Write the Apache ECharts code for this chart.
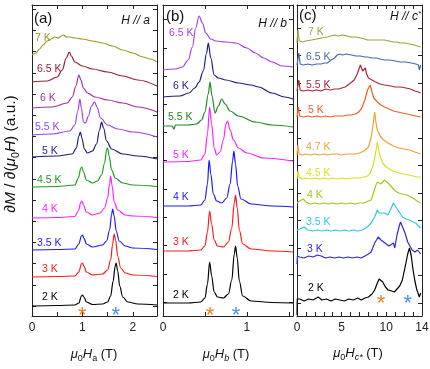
<!DOCTYPE html>
<html><head><meta charset="utf-8">
<script src="https://cdn.jsdelivr.net/npm/echarts@6/dist/echarts.min.js"></script>
<style>html,body{margin:0;padding:0;background:#fff}#c{width:430px;height:369px}</style>
</head><body><div id="c"></div>
<script>
// ---------- DATA (field in T, dM/dH in arbitrary units incl. vertical offset) ----------
const tempsA = ['2 K','3 K','3.5 K','4 K','4.5 K','5 K','5.5 K','6 K','6.5 K','7 K'];
const a_2K = [[0,10],[0.5,10.5],[0.85,11],[0.93,13],[0.98,20],[1.0,21],[1.03,19],[1.08,14],[1.2,11.5],[1.4,12],[1.5,14],[1.56,20],[1.61,35],[1.65,50],[1.67,53],[1.70,45],[1.74,30],[1.8,19],[1.9,14],[2.1,12],[2.48,11]];
const a_3K = [[0,39],[0.5,39.5],[0.85,40],[0.93,44],[0.98,52],[1.0,53],[1.03,50],[1.08,44],[1.2,41],[1.4,42],[1.5,46],[1.56,56],[1.6,72],[1.63,82],[1.66,76],[1.7,60],[1.76,48],[1.85,43],[2.0,41],[2.48,39.5]];
const a_35K = [[0,66],[0.5,66.5],[0.85,67],[0.93,72],[0.98,80],[1.0,81],[1.03,78],[1.08,72],[1.2,69],[1.4,71],[1.48,75],[1.54,86],[1.58,102],[1.60,107],[1.63,100],[1.67,85],[1.73,75],[1.85,70],[2.0,68],[2.48,66.5]];
const a_4K = [[0,98],[0.5,98.5],[0.85,99.5],[0.92,105],[0.97,114],[0.99,115],[1.02,111],[1.08,104],[1.2,101],[1.35,103],[1.44,108],[1.5,118],[1.54,132],[1.56,140],[1.59,130],[1.63,114],[1.7,106],[1.85,101],[2.0,100],[2.48,98.5]];
const a_45K = [[0,129],[0.5,129.5],[0.85,131],[0.92,138],[0.97,148],[0.99,149],[1.02,144],[1.08,136],[1.2,133],[1.3,135],[1.38,141],[1.44,153],[1.48,166],[1.50,168],[1.53,160],[1.58,146],[1.65,138],[1.8,133],[2.0,131],[2.48,129.5]];
const a_5K = [[0,159],[0.5,160],[0.8,162],[0.88,168],[0.93,180],[0.96,184],[0.99,178],[1.04,167],[1.1,163],[1.2,165],[1.28,172],[1.34,186],[1.38,194],[1.42,188],[1.48,175],[1.58,167],[1.8,162],[2.1,160],[2.48,157]];
const a_55K = [[0,181],[0.4,182],[0.75,185],[0.85,191],[0.91,205],[0.95,217],[0.98,208],[1.02,194],[1.06,193],[1.12,200],[1.18,210],[1.24,214],[1.29,209],[1.36,198],[1.5,191],[1.7,187],[2.0,184],[2.48,179]];
const a_6K = [[0,208],[0.4,209],[0.7,213],[0.8,219],[0.87,230],[0.93,241],[0.97,236],[1.02,228],[1.1,223],[1.25,219],[1.5,216],[1.8,213],[2.1,209],[2.48,204]];
const a_65K = [[0,234],[0.3,235],[0.5,239],[0.6,246],[0.68,258],[0.74,264],[0.78,260],[0.85,254],[1.0,250],[1.2,247],[1.5,244],[1.8,240],[2.1,236],[2.48,230]];
const a_7K = [[0,261],[0.08,263],[0.15,267],[0.22,271],[0.3,275],[0.38,277],[0.45,279],[0.52,278],[0.58,280],[0.63,281],[0.68,279],[0.75,279],[0.85,278],[1.0,277],[1.2,275],[1.4,273],[1.6,270],[1.8,266],[2.0,263],[2.2,259],[2.35,257],[2.48,254]];

const tempsB = ['2 K','3 K','4 K','5 K','5.5 K','6 K','6.5 K'];
const b_2K = [[0,13],[0.3,13],[0.45,14],[0.5,18],[0.53,32],[0.556,54],[0.58,40],[0.61,24],[0.65,19],[0.72,18],[0.78,22],[0.82,36],[0.85,62],[0.865,70],[0.885,58],[0.91,35],[0.95,20],[1.05,15],[1.3,13.5],[1.55,13]];
const b_3K = [[0,65],[0.3,65],[0.45,66],[0.5,70],[0.53,84],[0.556,105],[0.58,92],[0.61,76],[0.65,70],[0.72,69],[0.78,74],[0.82,88],[0.85,113],[0.865,121],[0.885,108],[0.91,86],[0.95,72],[1.05,67],[1.3,65],[1.55,64]];
const b_4K = [[0,110],[0.3,110],[0.45,111],[0.5,116],[0.53,132],[0.55,156],[0.57,142],[0.6,122],[0.64,115],[0.7,113],[0.76,118],[0.8,132],[0.83,155],[0.845,165],[0.865,152],[0.89,130],[0.93,117],[1.05,112],[1.3,110],[1.55,109]];
const b_5K = [[0,154],[0.3,154.5],[0.45,156],[0.5,162],[0.53,182],[0.556,209],[0.58,192],[0.61,168],[0.64,161],[0.68,164],[0.72,176],[0.75,192],[0.77,195],[0.8,186],[0.84,176],[0.9,168],[1.0,163],[1.2,158],[1.55,155]];
const b_55K = [[0,190],[0.11,190],[0.13,187],[0.15,191],[0.3,191],[0.4,192],[0.46,196],[0.5,204],[0.54,222],[0.56,234],[0.585,220],[0.62,203],[0.66,210],[0.7,217],[0.74,212],[0.8,205],[0.9,200],[1.1,194],[1.3,191],[1.55,189]];
const b_6K = [[0,219],[0.2,220],[0.31,223],[0.38,228],[0.43,234],[0.48,245],[0.52,263],[0.54,273],[0.57,258],[0.61,241],[0.66,238],[0.75,236],[0.9,233],[1.05,231],[1.14,229],[1.3,223],[1.45,219],[1.55,217]];
const b_65K = [[0,246],[0.15,247],[0.23,249],[0.3,256],[0.35,269],[0.39,288],[0.43,300],[0.47,293],[0.51,283],[0.57,277],[0.63,275],[0.75,274],[0.87,273],[1.0,268],[1.1,263],[1.2,258],[1.3,254],[1.42,250],[1.55,249]];

const tempsC = ['2 K','3 K','3.5 K','4 K','4.5 K','4.7 K','5 K','5.5 K','6.5 K','7 K'];
const c_2K = [[0,1],[0.03,17],[0.3,17],[0.8,15],[1.3,17],[1.8,16],[2.37,19],[2.8,16],[3.3,17],[3.8,15],[4.3,17],[4.8,16],[5.3,15],[5.8,17],[6.3,16],[6.8,18],[7.2,16],[7.6,18],[8.0,19],[8.4,22],[8.7,26],[9.0,33],[9.2,37],[9.4,35],[9.6,34],[9.9,29],[10.2,26],[10.6,25],[10.9,24],[11.2,27],[11.5,30],[11.8,36],[12.2,53],[12.4,62],[12.6,68],[12.8,60],[12.95,49],[13.2,35],[13.4,27],[13.7,19],[13.85,23]];
const c_3K = [[0,52],[0.05,60],[0.3,59],[0.8,58],[1.3,60],[1.8,59],[2.3,61],[2.7,60],[3.2,58],[3.7,59],[4.2,58],[4.7,59],[5.2,58],[5.7,59],[6.2,58],[6.7,59],[7.2,58],[7.6,60],[8.0,62],[8.3,64],[8.7,73],[9.1,79],[9.4,76],[9.6,74],[10.0,72],[10.3,70],[10.5,69],[10.8,73],[10.95,68],[11.2,81],[11.45,90],[11.6,94],[11.8,93],[12.1,83],[12.4,74],[12.7,69],[12.9,66],[13.2,64],[13.5,66],[13.85,62]];
const c_35K = [[0,86],[0.3,87],[0.8,89],[1.2,86],[1.8,85],[2.3,86],[2.8,85],[3.3,86],[3.8,85],[4.3,86],[4.8,85],[5.3,86],[5.8,85],[6.3,86],[6.8,85],[7.3,86],[7.7,88],[8.0,90],[8.3,93],[8.7,99],[9.0,106],[9.2,103],[9.4,101],[9.8,103],[10.2,101],[10.45,106],[10.8,113],[11.0,110],[11.3,106],[11.8,99],[12.2,97],[12.6,96],[13.0,94],[13.3,93],[13.6,90],[13.85,88]];
const c_4K = [[0,113],[0.3,115],[0.7,117],[1.0,114],[1.5,112],[2.0,113],[2.5,112],[3.0,113],[3.5,112],[4.0,113],[4.5,112],[5.0,113],[5.5,112],[6.0,113],[6.5,112],[7.0,113],[7.5,113],[8.0,115],[8.3,116],[8.6,124],[8.8,130],[9.0,134],[9.2,133],[9.4,132],[9.6,134],[9.8,136],[10.0,134],[10.2,133],[10.5,130],[10.7,128],[11.0,125],[11.4,123],[11.8,122],[12.3,121],[12.8,119],[13.3,116],[13.6,114],[13.85,113]];
const c_45K = [[0,137],[0.1,145],[0.25,139],[0.6,137],[1.0,138],[1.5,137],[2.0,138],[2.5,137],[3.0,138],[3.5,137],[4.0,138],[4.5,137],[5.0,138],[5.5,137],[6.0,138],[6.5,138],[7.0,138],[7.5,139],[7.9,140],[8.2,143],[8.5,150],[8.75,160],[9.0,174],[9.15,166],[9.3,160],[9.6,153],[10.0,149],[10.5,146],[11.0,144],[11.5,143],[12.0,142],[12.5,141],[13.0,140],[13.5,139],[13.85,139]];
const c_47K = [[0,161],[0.1,171],[0.25,162],[0.6,161],[1.0,162],[1.5,161],[2.0,162],[2.5,161],[3.0,162],[3.5,161],[4.0,162],[4.5,162],[5.0,161],[5.5,162],[6.0,162],[6.5,162],[7.0,163],[7.5,165],[8.0,169],[8.3,178],[8.5,190],[8.7,204],[8.85,193],[9.0,186],[9.3,180],[9.7,176],[10.2,173],[10.8,170],[11.4,168],[12.0,167],[12.6,166],[13.2,164],[13.85,162]];
const c_5K = [[0,199],[0.15,209],[0.3,200],[0.7,199],[1.2,200],[1.7,199],[2.2,200],[2.7,199],[3.2,200],[3.7,199],[4.2,200],[4.7,200],[5.2,200],[5.7,201],[6.1,201],[6.5,202],[6.8,203],[7.2,207],[7.6,216],[7.9,226],[8.2,231],[8.4,224],[8.6,218],[9.0,214],[9.4,211],[9.8,209],[10.3,207],[10.8,205],[11.3,204],[11.8,203],[12.3,202],[12.8,201],[13.3,200],[13.85,199]];
const c_55K = [[0,225],[0.2,236],[0.35,226],[0.7,225],[1.2,226],[1.7,225],[2.2,226],[2.7,225],[3.2,227],[3.7,226],[4.2,227],[4.7,227],[5.0,228],[5.4,229],[5.7,231],[6.0,233],[6.4,236],[6.7,241],[6.9,246],[7.1,251],[7.2,252],[7.35,245],[7.5,244],[7.65,248],[7.8,242],[8.0,238],[8.4,236],[8.8,234],[9.3,232],[9.8,231],[10.5,230],[11.0,229],[11.6,229],[12.2,228],[12.7,227],[13.2,225],[13.6,224],[13.85,223]];
const c_65K = [[0,251],[0.2,263],[0.35,252],[0.7,251],[1.2,252],[1.7,251],[2.2,252],[2.7,252],[3.1,253],[3.4,253],[3.8,256],[4.2,258],[4.5,261],[4.8,262],[5.1,261],[5.5,262],[6.1,261],[6.6,260],[7.1,260],[7.6,259],[7.9,259],[8.4,258],[8.9,258],[9.3,257],[9.8,256],[10.4,256],[11.0,255],[11.6,254],[12.2,254],[12.8,253],[13.3,252],[13.6,251],[13.7,246],[13.85,251]];
const c_7K = [[0,273],[0.1,286],[0.25,275],[0.6,274],[1.0,275],[1.6,276],[2.2,277],[2.8,278],[3.4,279],[3.8,280],[4.2,281],[4.6,280],[5.1,281],[5.6,280],[6.1,279],[6.6,279],[7.1,278],[7.6,277],[7.9,276],[8.4,276],[8.9,276],[9.4,276],[9.8,276],[10.3,275],[10.8,274],[11.2,274],[11.6,273],[12.1,273],[12.6,272],[13.1,271],[13.5,270],[13.85,269]];

// asterisk marker fields (T)
const starsA = [1.0, 1.66];
const starsB = [0.56, 0.87];
const starsC = [9.4, 12.4];

// tick values
const xTicksA = [0,0.5,1,1.5,2], xLabelsA = ['0','1','2'];
const xTicksB = [0,0.5,1,1.5], xLabelsB = ['0','1'];
const xTicksC = [0,1,2,3,4,5,6,7,8,9,10,11,12,13,14], xLabelsC = ['0','5','10','14'];
const yTicksA = [10,31.2,52.4,73.6,94.8,116,137.2,158.4,179.6,200.8,222,243.2,264.4,285.6,306.8];
const yTicksB = [14,42,71,99,127,156,184,212,240,268,297];
const yTicksC = [13,40.5,68,95.5,123,150.5,178,205.5,233,260.5,288];

// ---------- STYLE / LAYOUT ----------
const curvesA = [a_2K,a_3K,a_35K,a_4K,a_45K,a_5K,a_55K,a_6K,a_65K,a_7K];
const colorsA = ['#000000','#ff1a1a','#1a1aff','#ff20ff','#1f9a1f','#1c1c80','#a040f0','#a0309a','#a01c30','#9a9a2a'];
const labPosA = [[42,297],[42,269],[37,243],[42,209],[37,180],[42,151],[35,127],[40,98],[37,69],[35,38]];
const curvesB = [b_2K,b_3K,b_4K,b_5K,b_55K,b_6K,b_65K];
const colorsB = ['#000000','#ff1a1a','#1a1aff','#ff20ff','#1f8a1f','#1c1c80','#a040f0'];
const labPosB = [[173,295],[173,242],[173,197],[173,155],[168,117],[173,86],[169,33]];
const curvesC = [c_2K,c_3K,c_35K,c_4K,c_45K,c_47K,c_5K,c_55K,c_65K,c_7K];
const colorsC = ['#000000','#2a2ae0','#30c8e0','#a8c428','#dede1e','#f5a030','#f06020','#a82838','#4a68a8','#a0a038'];
const labPosC = [[308,288],[307,249],[306,222],[307,195],[306,173],[306,147],[308,110],[306,85],[306,57],[308,32]];

const grids = [
  {left:32, top:5, width:125, height:311},
  {left:163, top:5, width:130, height:311},
  {left:297, top:5, width:125, height:311}
];
const xMax = [2.48, 1.55, 14];
const FONT = 'Liberation Sans, Arial, sans-serif';
const AX = '#222';

const xAxes = [], yAxes = [];
[xTicksA,xTicksB,xTicksC].forEach((tk,g)=>{
  const base = {type:'value', gridIndex:g, min:0, max:xMax[g], splitLine:{show:false},
    axisLine:{show:true, onZero:false, lineStyle:{color:AX,width:1}},
    axisTick:{show:true, inside:true, length:4, customValues:tk, lineStyle:{color:AX}},
    axisLabel:{show:false}};
  xAxes.push(Object.assign({}, base, {position:'bottom'}));
  xAxes.push(Object.assign({}, base, {position:'top'}));
});
[yTicksA,yTicksB,yTicksC].forEach((tk,g)=>{
  const base = {type:'value', gridIndex:g, min:0, max:311, splitLine:{show:false},
    axisLine:{show:true, onZero:false, lineStyle:{color:AX,width:1}},
    axisTick:{show:true, inside:true, length:4, customValues:tk, lineStyle:{color:AX}},
    axisLabel:{show:false}};
  yAxes.push(Object.assign({}, base, {position:'left'}));
  yAxes.push(Object.assign({}, base, {position:'right'}));
});

const series = [];
function addSeries(curves, colors, g, smooth){
  curves.forEach((d,i)=>{
    series.push({type:'line', xAxisIndex:2*g, yAxisIndex:2*g, data:d, showSymbol:false,
      smooth:smooth, smoothMonotone: smooth ? 'x' : undefined, silent:true,
      lineStyle:{color:colors[i], width:1.2}, itemStyle:{color:colors[i]}, z:3});
  });
}
addSeries(curvesA, colorsA, 0, 0.35);
addSeries(curvesB, colorsB, 1, 0.35);
addSeries(curvesC, colorsC, 2, false);

const chart = echarts.init(document.getElementById('c'), null, {renderer:'canvas'});
chart.setOption({animation:false, backgroundColor:'#fff', grid:grids, xAxis:xAxes, yAxis:yAxes, series:series});

// ---------- annotations ----------
const gfx = [];
// x tick labels, placed through each axis' scale
[xLabelsA,xLabelsB,xLabelsC].forEach((labs,g)=>{
  labs.forEach(t=>{
    const px = chart.convertToPixel({xAxisIndex:2*g}, parseFloat(t));
    gfx.push({type:'text', x:px, y:328, z:20,
      style:{text:t, fill:'#222', font:'12px '+FONT, textAlign:'center', textVerticalAlign:'middle'}});
  });
});

function tempLabels(temps, pos, colors){
  temps.forEach((t,i)=>gfx.push({type:'text', x:pos[i][0], y:pos[i][1], z:10,
    style:{text:t, fill:colors[i], font:'10.5px '+FONT, textVerticalAlign:'middle'}}));
}
tempLabels(tempsA, labPosA, colorsA);
tempLabels(tempsB, labPosB, colorsB);
tempLabels(tempsC, labPosC, colorsC);

function stars(vals, g, y){
  const cols = ['#f08020','#4a90f0'];
  vals.forEach((v,i)=>{
    const px = chart.convertToPixel({xAxisIndex:2*g}, v);
    gfx.push({type:'text', x:px, y:y+6, z:10,
      style:{text:'*', fill:cols[i], font:'22px '+FONT, textAlign:'center', textVerticalAlign:'middle'}});
  });
}
stars(starsA, 0, 310);
stars(starsB, 1, 310);
stars(starsC, 2, 298);

// panel letters and field directions
[['(a)',34,19],['(b)',166,17],['(c)',299,16]].forEach(([t,x,y])=>gfx.push({type:'text',x:x,y:y,z:10,
  style:{text:t, fill:'#111', font:'15px '+FONT, textVerticalAlign:'middle'}}));
const richDir = {i:{fontStyle:'italic', fontSize:12, fontFamily:FONT, fill:'#111'},
  sup:{fontStyle:'italic', fontSize:8, fontFamily:FONT, fill:'#111', padding:[0,0,6,0]}};
gfx.push({type:'text', x:150, y:21, z:10, style:{text:'{i|H // a}', rich:richDir, textAlign:'right', textVerticalAlign:'middle'}});
gfx.push({type:'text', x:287, y:24, z:10, style:{text:'{i|H // b}', rich:richDir, textAlign:'right', textVerticalAlign:'middle'}});
gfx.push({type:'text', x:421, y:17, z:10, style:{text:'{i|H // c}{sup|*}', rich:richDir, textAlign:'right', textVerticalAlign:'middle'}});

// axis titles
const richT = {
  m:{fontStyle:'italic', fontSize:13, fontFamily:FONT, fill:'#111', lineHeight:18},
  n:{fontSize:13, fontFamily:FONT, fill:'#111', lineHeight:18},
  s:{fontSize:9, fontFamily:FONT, fill:'#111', verticalAlign:'bottom', lineHeight:18},
  si:{fontSize:9, fontStyle:'italic', fontFamily:FONT, fill:'#111', verticalAlign:'bottom', lineHeight:18}
};
const richY = {
  m:{fontStyle:'italic', fontSize:15.5, fontFamily:FONT, fill:'#111', lineHeight:21},
  n:{fontSize:15.5, fontFamily:FONT, fill:'#111', lineHeight:21},
  s:{fontSize:10.5, fontFamily:FONT, fill:'#111', verticalAlign:'bottom', lineHeight:21}
};
gfx.push({type:'text', x:94, y:354, z:10, style:{text:'{m|μ}{s|0}{m|H}{s|a}{n| (T)}', rich:richT, textAlign:'center', textVerticalAlign:'middle'}});
gfx.push({type:'text', x:226, y:354, z:10, style:{text:'{m|μ}{s|0}{m|H}{si|b}{n| (T)}', rich:richT, textAlign:'center', textVerticalAlign:'middle'}});
gfx.push({type:'text', x:358, y:353, z:10, style:{text:'{m|μ}{s|0}{m|H}{si|c*}{n| (T)}', rich:richT, textAlign:'center', textVerticalAlign:'middle'}});
gfx.push({type:'text', x:11, y:154, rotation:Math.PI/2, z:10,
  style:{text:'{n|∂}{m|M}{n| / ∂(}{m|μ}{s|0}{m|H}{n|) (a.u.)}', rich:richY, textAlign:'center', textVerticalAlign:'middle'}});

chart.setOption({graphic:gfx});
</script></body></html>
